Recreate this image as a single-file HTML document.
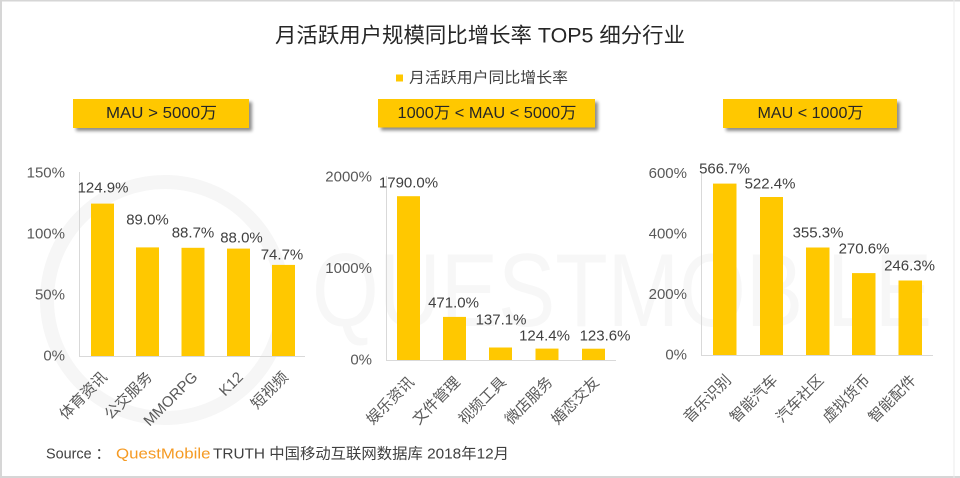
<!DOCTYPE html>
<html><head><meta charset="utf-8">
<style>
html,body{margin:0;padding:0;background:#fff;}
svg{display:block;}
text{font-family:"Liberation Sans","Noto Sans CJK SC",sans-serif;}
</style></head>
<body>
<svg width="960" height="478" viewBox="0 0 960 478" xmlns="http://www.w3.org/2000/svg">
<defs>
<filter id="sh" x="-10%" y="-30%" width="130%" height="180%">
<feGaussianBlur in="SourceAlpha" stdDeviation="1.5"/>
<feOffset dx="3" dy="3" result="b"/>
<feComponentTransfer><feFuncA type="linear" slope="0.45"/></feComponentTransfer>
<feMerge><feMergeNode/><feMergeNode in="SourceGraphic"/></feMerge>
</filter>
</defs>
<rect x="0" y="0" width="960" height="478" fill="#fff"/>
<!-- watermark -->
<circle cx="165" cy="300" r="118" fill="none" stroke="#f6f6f6" stroke-width="14"/>
<text x="312" y="326" font-size="104" fill="#f7f7f7" textLength="620" lengthAdjust="spacingAndGlyphs">QUESTMOBILE</text>
<!-- border -->
<rect x="0" y="0" width="2" height="478" fill="#d6d6d6"/>
<rect x="0" y="0" width="960" height="1.5" fill="#d6d6d6"/>
<rect x="0" y="476" width="960" height="2" fill="#d6d6d6"/>
<rect x="953.5" y="0" width="1" height="478" fill="#ebebeb"/>

<!-- title -->
<text x="480" y="36" font-size="21" fill="#262626" text-anchor="middle" dominant-baseline="central" textLength="410" lengthAdjust="spacingAndGlyphs">月活跃用户规模同比增长率 TOP5 细分行业</text>
<!-- legend -->
<rect x="396" y="74.5" width="7" height="7" fill="#FFC800"/>
<text x="409" y="78" font-size="15" fill="#404040" dominant-baseline="central" textLength="159" lengthAdjust="spacingAndGlyphs">月活跃用户同比增长率</text>

<!-- boxes -->
<rect x="73" y="99" width="176" height="29" fill="#FFC800" filter="url(#sh)"/>
<text x="161.5" y="113.5" font-size="16" fill="#262626" text-anchor="middle" dominant-baseline="central" textLength="111" lengthAdjust="spacingAndGlyphs">MAU &gt; 5000万</text>
<rect x="378" y="99" width="217" height="28.5" fill="#FFC800" filter="url(#sh)"/>
<text x="487" y="113.5" font-size="16" fill="#262626" text-anchor="middle" dominant-baseline="central" textLength="179" lengthAdjust="spacingAndGlyphs">1000万 &lt; MAU &lt; 5000万</text>
<rect x="723" y="99" width="174" height="29" fill="#FFC800" filter="url(#sh)"/>
<text x="810.5" y="113.5" font-size="16" fill="#262626" text-anchor="middle" dominant-baseline="central" textLength="106" lengthAdjust="spacingAndGlyphs">MAU &lt; 1000万</text>

<!-- PANEL 1 -->
<g font-size="15" fill="#595959" text-anchor="end" dominant-baseline="central">
<text x="65" y="173">150%</text>
<text x="65" y="234">100%</text>
<text x="65" y="295">50%</text>
<text x="65" y="356">0%</text>
</g>
<line x1="79.5" y1="172" x2="79.5" y2="356.5" stroke="#d9d9d9" stroke-width="1"/>
<line x1="79" y1="356.5" x2="305" y2="356.5" stroke="#d9d9d9" stroke-width="1"/>
<g fill="#FFC800">
<rect x="91" y="203.6" width="23" height="152.4"/>
<rect x="136" y="247.4" width="23" height="108.6"/>
<rect x="181.5" y="247.8" width="23" height="108.2"/>
<rect x="227" y="248.6" width="23" height="107.4"/>
<rect x="272" y="264.9" width="23" height="91.1"/>
</g>
<g font-size="15" fill="#404040" text-anchor="middle" dominant-baseline="central">
<text x="103" y="188">124.9%</text>
<text x="147.5" y="220">89.0%</text>
<text x="193" y="233">88.7%</text>
<text x="241.5" y="238">88.0%</text>
<text x="282" y="255">74.7%</text>
</g>
<g font-size="15" fill="#595959" text-anchor="end">
<text transform="translate(108,378) rotate(-45)">体育资讯</text>
<text transform="translate(153,378) rotate(-45)">公交服务</text>
<text transform="translate(198.5,378) rotate(-45)">MMORPG</text>
<text transform="translate(244,378) rotate(-45)">K12</text>
<text transform="translate(289,378) rotate(-45)">短视频</text>
</g>

<!-- PANEL 2 -->
<g font-size="15" fill="#595959" text-anchor="end" dominant-baseline="central">
<text x="372" y="177">2000%</text>
<text x="372" y="268.5">1000%</text>
<text x="372" y="360">0%</text>
</g>
<line x1="386.5" y1="176" x2="386.5" y2="360.5" stroke="#d9d9d9" stroke-width="1"/>
<line x1="386" y1="360.5" x2="616" y2="360.5" stroke="#d9d9d9" stroke-width="1"/>
<g fill="#FFC800">
<rect x="397" y="196.2" width="23" height="163.8"/>
<rect x="443" y="316.9" width="23" height="43.1"/>
<rect x="489" y="347.5" width="23" height="12.5"/>
<rect x="535.5" y="348.6" width="23" height="11.4"/>
<rect x="582" y="348.7" width="23" height="11.3"/>
</g>
<g font-size="15" fill="#404040" text-anchor="middle" dominant-baseline="central">
<text x="408.5" y="183">1790.0%</text>
<text x="453.5" y="303">471.0%</text>
<text x="501" y="320">137.1%</text>
<text x="544.5" y="336">124.4%</text>
<text x="605" y="336">123.6%</text>
</g>
<g font-size="15" fill="#595959" text-anchor="end">
<text transform="translate(415,383) rotate(-45)">娱乐资讯</text>
<text transform="translate(461,383) rotate(-45)">文件管理</text>
<text transform="translate(507,383) rotate(-45)">视频工具</text>
<text transform="translate(553.5,383) rotate(-45)">微店服务</text>
<text transform="translate(600,383) rotate(-45)">婚恋交友</text>
</g>

<!-- PANEL 3 -->
<g font-size="15" fill="#595959" text-anchor="end" dominant-baseline="central">
<text x="687" y="173.5">600%</text>
<text x="687" y="234">400%</text>
<text x="687" y="294.5">200%</text>
<text x="687" y="355">0%</text>
</g>
<line x1="701.5" y1="172" x2="701.5" y2="355.5" stroke="#d9d9d9" stroke-width="1"/>
<line x1="701" y1="355.5" x2="933" y2="355.5" stroke="#d9d9d9" stroke-width="1"/>
<g fill="#FFC800">
<rect x="713" y="183.6" width="23.5" height="171.4"/>
<rect x="760" y="197" width="23" height="158"/>
<rect x="806" y="247.5" width="23.5" height="107.5"/>
<rect x="852" y="273.1" width="23.5" height="81.9"/>
<rect x="898.5" y="280.5" width="23.5" height="74.5"/>
</g>
<g font-size="15" fill="#404040" text-anchor="middle" dominant-baseline="central">
<text x="724.5" y="169">566.7%</text>
<text x="770" y="184">522.4%</text>
<text x="818" y="233">355.3%</text>
<text x="864" y="249">270.6%</text>
<text x="909.5" y="266">246.3%</text>
</g>
<g font-size="15" fill="#595959" text-anchor="end">
<text transform="translate(732,381) rotate(-45)">音乐识别</text>
<text transform="translate(778.5,381) rotate(-45)">智能汽车</text>
<text transform="translate(824.5,381) rotate(-45)">汽车社区</text>
<text transform="translate(871,381) rotate(-45)">虚拟货币</text>
<text transform="translate(917,381) rotate(-45)">智能配件</text>
</g>

<!-- source -->
<g font-size="15" dominant-baseline="central">
<text x="46" y="454" fill="#404040" textLength="64" lengthAdjust="spacingAndGlyphs">Source ：</text>
<text x="116" y="454" fill="#F59A23" textLength="94.5" lengthAdjust="spacingAndGlyphs">QuestMobile</text>
<text x="213" y="454" fill="#404040" textLength="296" lengthAdjust="spacingAndGlyphs">TRUTH 中国移动互联网数据库 2018年12月</text>
</g>
</svg>
</body></html>
